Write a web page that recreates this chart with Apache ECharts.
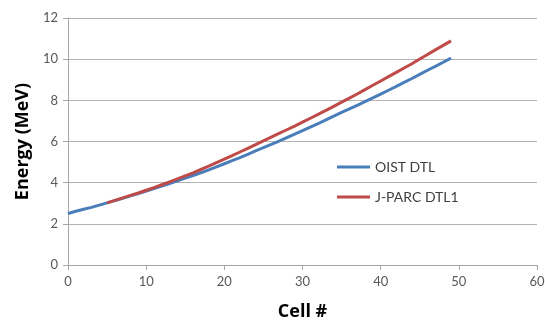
<!DOCTYPE html>
<html>
<head>
<meta charset="utf-8">
<script src="https://cdn.jsdelivr.net/npm/echarts@6/dist/echarts.min.js"></script>
<style>
  html, body { margin: 0; padding: 0; background: #fff; }
  #chart { width: 545px; height: 322px; }
</style>
</head>
<body>
<div id="chart"></div>
<script>
// cell numbers and energies (MeV)
var oistCells = [0, 1, 2, 3, 4, 5, 6, 7, 8, 9, 10, 11, 12, 13, 14, 15, 16, 17, 18, 19,
    20, 21, 22, 23, 24, 25, 26, 27, 28, 29, 30, 31, 32, 33, 34, 35, 36, 37, 38, 39,
    40, 41, 42, 43, 44, 45, 46, 47, 48, 49];
var oistEnergy = [2.50, 2.61, 2.71, 2.80, 2.91, 3.02, 3.13, 3.24, 3.36, 3.47,
    3.59, 3.71, 3.83, 3.96, 4.09, 4.22, 4.35, 4.48, 4.62, 4.77,
    4.92, 5.07, 5.22, 5.38, 5.54, 5.70, 5.86, 6.02, 6.19, 6.36,
    6.53, 6.70, 6.87, 7.05, 7.23, 7.41, 7.58, 7.76, 7.94, 8.12,
    8.30, 8.49, 8.68, 8.87, 9.06, 9.26, 9.46, 9.65, 9.85, 10.05];

var jparcCells = [5, 6, 7, 8, 9, 10, 11, 12, 13, 14, 15, 16, 17, 18, 19,
    20, 21, 22, 23, 24, 25, 26, 27, 28, 29, 30, 31, 32, 33, 34, 35, 36, 37, 38, 39,
    40, 41, 42, 43, 44, 45, 46, 47, 48, 49];
var jparcEnergy = [3.02, 3.14, 3.26, 3.38, 3.50, 3.63, 3.76, 3.90, 4.04, 4.18,
    4.33, 4.48, 4.64, 4.80, 4.97, 5.14, 5.31, 5.49, 5.67, 5.85,
    6.03, 6.21, 6.39, 6.57, 6.75, 6.94, 7.13, 7.32, 7.51, 7.71,
    7.91, 8.11, 8.31, 8.52, 8.73, 8.94, 9.15, 9.36, 9.57, 9.78,
    10.01, 10.23, 10.45, 10.67, 10.89];

var seriesNames = ['OIST DTL', 'J-PARC DTL1'];

function pairs(xs, ys) {
    var out = [];
    for (var i = 0; i < xs.length; i++) {
        out.push([xs[i], ys[i]]);
    }
    return out;
}

var chart = echarts.init(document.getElementById('chart'));

var font = 'Lato, "Liberation Sans", sans-serif';
var titleFont = '"Open Sans", Lato, sans-serif';

var option = {
    animation: false,
    textStyle: { fontFamily: font },
    grid: { left: 68, right: 8, top: 18, bottom: 57, outerBoundsMode: 'none', containLabel: false },
    legend: {
        orient: 'vertical',
        left: 332,
        top: 155,
        icon: 'rect',
        itemWidth: 33,
        itemHeight: 3,
        itemGap: 16,
        textStyle: { fontSize: 14, color: '#404040', fontFamily: font },
        data: seriesNames
    },
    xAxis: {
        type: 'value',
        min: 0,
        max: 60,
        interval: 10,
        name: 'Cell #',
        nameLocation: 'middle',
        nameGap: 38,
        nameTextStyle: { fontSize: 18, fontWeight: 'bold', color: '#000', fontFamily: titleFont },
        axisLine: { lineStyle: { color: '#a6a6a6' } },
        axisTick: { show: true, length: 5, lineStyle: { color: '#a6a6a6' } },
        axisLabel: { fontSize: 13, color: '#595959', margin: 10 },
        splitLine: { show: false }
    },
    yAxis: {
        type: 'value',
        min: 0,
        max: 12,
        interval: 2,
        name: 'Energy (MeV)',
        nameLocation: 'middle',
        nameGap: 36,
        nameTextStyle: { fontSize: 18, fontWeight: 'bold', color: '#000', fontFamily: titleFont },
        axisLine: { show: true, lineStyle: { color: '#a6a6a6' } },
        axisTick: { show: true, length: 5, lineStyle: { color: '#a6a6a6' } },
        axisLabel: { fontSize: 13, color: '#595959', margin: 10 },
        splitLine: { show: true, lineStyle: { color: '#b3b3b3' } }
    },
    series: [
        {
            name: seriesNames[0],
            type: 'line',
            symbol: 'none',
            lineStyle: { width: 3, color: '#4a7ebb' },
            itemStyle: { color: '#4a7ebb' },
            data: pairs(oistCells, oistEnergy)
        },
        {
            name: seriesNames[1],
            type: 'line',
            symbol: 'none',
            lineStyle: { width: 3, color: '#be4b48' },
            itemStyle: { color: '#be4b48' },
            data: pairs(jparcCells, jparcEnergy)
        }
    ]
};

chart.setOption(option);
</script>
</body>
</html>
